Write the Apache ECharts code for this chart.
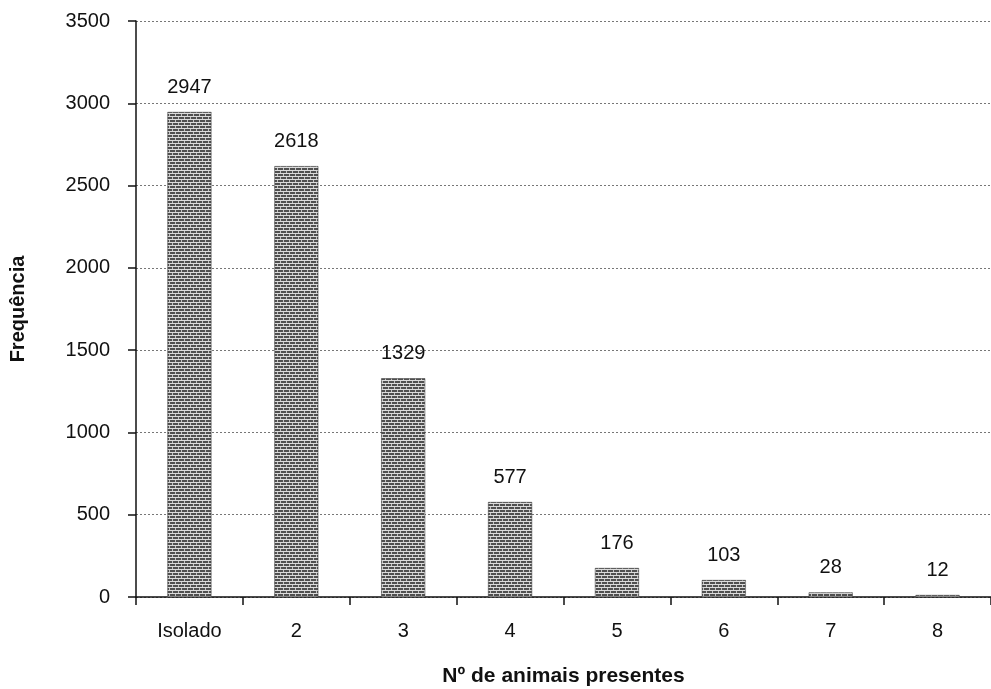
<!DOCTYPE html>
<html>
<head>
<meta charset="utf-8">
<script src="https://cdn.jsdelivr.net/npm/echarts@6/dist/echarts.min.js"></script>
<style>
  html, body { margin: 0; padding: 0; background: #fff; }
  #chart { width: 991px; height: 689px; }
</style>
</head>
<body>
<div id="chart"></div>
<script>
// Group size categories and observed frequencies
const categories = ['Isolado', '2', '3', '4', '5', '6', '7', '8'];
const frequencies = [2947, 2618, 1329, 577, 176, 103, 28, 12];
const yTicks = { min: 0, max: 3500, interval: 500 };

// Hatched grey fill for the bars
function makeHatch() {
  const c = document.createElement('canvas');
  c.width = 6; c.height = 6;
  const g = c.getContext('2d');
  g.fillStyle = '#505050';
  g.fillRect(0, 0, 6, 6);
  g.fillStyle = '#dcdcdc';
  g.fillRect(0, 2, 6, 1);
  g.fillRect(0, 5, 6, 1);
  g.fillStyle = '#c4c4c4';
  g.fillRect(1, 0, 1, 2);
  g.fillRect(4, 3, 1, 2);
  return c;
}

const chart = echarts.init(document.getElementById('chart'), null, { renderer: 'canvas' });
const font = 'Arial, "Liberation Sans", sans-serif';

chart.setOption({
  animation: false,
  grid: {
    left: 136, right: 0, top: 21, bottom: 92,
    containLabel: false,
    outerBoundsMode: 'none'
  },
  xAxis: {
    type: 'category',
    data: categories,
    name: 'Nº de animais presentes',
    nameLocation: 'middle',
    nameGap: 69,
    nameTextStyle: { fontFamily: font, fontSize: 21, fontWeight: 'bold', color: '#111' },
    axisLine: { lineStyle: { color: '#111', width: 1.5 } },
    axisTick: { show: true, length: 8, alignWithLabel: false, lineStyle: { color: '#111', width: 1.5 } },
    axisLabel: { fontFamily: font, fontSize: 20, color: '#111', margin: 24 }
  },
  yAxis: {
    type: 'value',
    min: yTicks.min,
    max: yTicks.max,
    interval: yTicks.interval,
    name: 'Frequência',
    nameLocation: 'middle',
    nameGap: 108,
    nameTextStyle: { fontFamily: font, fontSize: 20, fontWeight: 'bold', color: '#111' },
    axisLine: { show: true, lineStyle: { color: '#111', width: 1.5 } },
    axisTick: { show: true, length: 8, lineStyle: { color: '#111', width: 1.5 } },
    axisLabel: {
      fontFamily: font, fontSize: 20, color: '#111', margin: 26,
      formatter: (v) => String(v)
    },
    splitLine: { show: true, lineStyle: { color: '#777', type: [2, 2], width: 1 } }
  },
  series: [{
    type: 'bar',
    data: frequencies,
    barWidth: 44,
    itemStyle: {
      color: { image: makeHatch(), repeat: 'repeat' },
      borderColor: '#333',
      borderWidth: 0.5
    },
    label: {
      show: true,
      position: 'top',
      distance: 15,
      fontFamily: font,
      fontSize: 20,
      color: '#111'
    }
  }]
});
</script>
</body>
</html>
